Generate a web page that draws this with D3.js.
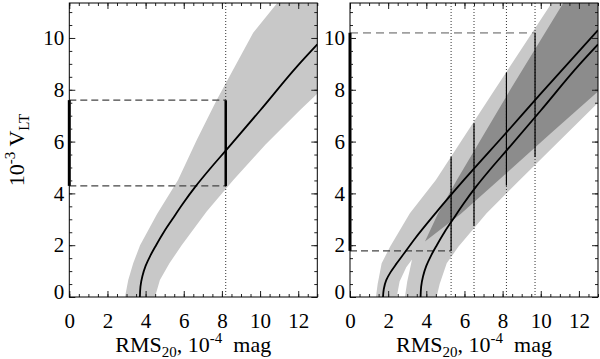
<!DOCTYPE html>
<html>
<head>
<meta charset="utf-8">
<script src="https://cdn.jsdelivr.net/npm/d3@7/dist/d3.min.js"></script>
<style>
body { margin: 0; background: #fff; }
svg, svg text { font-family: "Liberation Serif", "DejaVu Serif", serif; }
</style>
</head>
<body>
<script>
// axis ticks
var xTicks = [0, 2, 4, 6, 8, 10, 12];
var yTicks = [0, 2, 4, 6, 8, 10];

// model curves, [RMS20, 10^-3 V_LT]
var curveB = [[3.7,0],[3.73,0.4],[3.83,0.8],[4.0,1.2],[4.25,1.6],[4.55,2.0],[4.95,2.5],[5.4,3.0],[5.95,3.6],[6.6,4.25],[7.4,4.97],[8.2,5.65],[10,7.2],[12,8.95],[13,9.75]];
var curveA = [[1.73,0],[1.77,0.3],[1.9,0.65],[2.12,0.95],[2.45,1.3],[2.85,1.7],[3.4,2.25],[4.5,3.25],[5.95,4.5],[8.2,6.35],[10,7.85],[13,10.3]];

// left panel band edges
var bandUpperL = [[2.92,0],[3.09,0.66],[3.35,1.3],[3.71,2.0],[4.6,3.2],[5.7,4.52],[6.68,6.06],[7.72,7.6],[9.64,10.2],[10.9,11.35],[11.3,12]];
var bandLowerL = [[4.49,0],[4.75,0.66],[5.25,1.3],[5.89,2.0],[7.2,3.3],[8.6,4.52],[10.3,5.9],[12.1,7.22],[13.5,8.2]];

// right panel light band (union of two) and dark band
var bandUpperR = [[1.36,0],[1.45,0.5],[1.66,1.3],[2.1,1.94],[3.14,3.23],[4.5,4.52],[7.5,7.9],[10.57,11.35],[11,12]];
var bandLowerR = [[4.54,0],[4.7,0.5],[5.07,1.3],[5.68,1.94],[7.16,3.23],[8.9,4.52],[13,7.5],[13.5,7.9]];
var gapEdgeA = [[2.45,0],[2.6,0.6],[2.95,1.15],[3.25,1.45]];
var gapEdgeB = [[2.88,0],[3.0,0.6],[3.15,1.1],[3.25,1.45]];
var darkUpper = [[3.93,2.14],[4.6,3.2],[5.6,4.52],[8.4,8.0],[11.18,11.35],[11.5,12]];
var darkLower = [[3.93,2.14],[5.8,3.2],[7.8,4.52],[10.5,6.3],[13,7.93],[13.5,8.25]];

// measured ranges
var leftRms = [8.2];
var leftLo = [4.29];
var leftHi = [7.6];
var rightRms = [5.3, 6.5, 8.2, 9.7];
var rightLo = [1.78, 2.75, 4.3, 5.4];
var rightHi = [5.4, 6.7, 8.65, 10.2];

window.onload = function(){
    var w = 600, h = 359;
    var pw = 248, ph = 294, top = 3;
    var serif = "'Liberation Serif', 'DejaVu Serif', serif";

    var svg = d3.select("body").append("svg")
        .attr("width", w)
        .attr("height", h);

    var x = d3.scaleLinear().domain([0, 13]).range([0, pw]);
    var y = d3.scaleLinear().domain([0, 11.35]).range([ph, 0]);

    var line = d3.line().x(function(d){ return x(d[0]); }).y(function(d){ return y(d[1]); });
    var smooth = d3.line().x(function(d){ return x(d[0]); }).y(function(d){ return y(d[1]); }).curve(d3.curveMonotoneY);

    svg.append("defs").append("clipPath").attr("id", "clip")
        .append("rect").attr("width", pw).attr("height", ph);

    function panel(x0){
        var g = svg.append("g").attr("transform", "translate(" + x0 + "," + top + ")");
        var p = g.append("g").attr("clip-path", "url(#clip)");
        return { g: g, p: p };
    }

    function frame(g){
        var minor = d3.range(0, 13.01, 0.5);
        var minorY = d3.range(0, 11.35, 0.5);
        g.append("g").attr("transform", "translate(0," + ph + ")")
            .call(d3.axisBottom(x).tickValues(minor).tickSize(-3).tickFormat(""));
        g.append("g").call(d3.axisTop(x).tickValues(minor).tickSize(-3).tickFormat(""));
        g.append("g").call(d3.axisLeft(y).tickValues(minorY).tickSize(-3).tickFormat(""));
        g.append("g").attr("transform", "translate(" + pw + ",0)")
            .call(d3.axisRight(y).tickValues(minorY).tickSize(-3).tickFormat(""));

        g.append("g").attr("transform", "translate(0," + ph + ")")
            .call(d3.axisBottom(x).tickValues(xTicks).tickSize(-6).tickPadding(16).tickFormat(d3.format("d")));
        g.append("g").call(d3.axisTop(x).tickValues(xTicks).tickSize(-6).tickFormat(""));
        var ly = g.append("g")
            .call(d3.axisLeft(y).tickValues(yTicks).tickSize(-6).tickPadding(5).tickFormat(d3.format("d")));
        g.append("g").attr("transform", "translate(" + pw + ",0)")
            .call(d3.axisRight(y).tickValues(yTicks).tickSize(-6).tickFormat(""));

        g.selectAll(".domain").remove();
        g.selectAll(".tick line").attr("stroke", "#222");
        g.selectAll(".tick text").style("font-family", serif).style("font-size", "21px").attr("fill", "#000");
        ly.selectAll(".tick text").filter(function(d){ return d === 0; }).attr("dy", "0.08em");

        g.append("rect").attr("width", pw).attr("height", ph)
            .attr("fill", "none").attr("stroke", "#000").attr("stroke-width", 1);

        // x title
        var t = g.append("text").attr("x", pw / 2).attr("y", 352 - top)
            .attr("text-anchor", "middle").style("font-family", serif).style("font-size", "22px");
        t.append("tspan").text("RMS");
        t.append("tspan").style("font-size", "15px").attr("dy", 5).text("20");
        t.append("tspan").attr("dy", -5).text(", 10");
        t.append("tspan").style("font-size", "15px").attr("dy", -9).text("-4");
        t.append("tspan").attr("dy", 9).text("\u00a0 mag");
    }

    // ---- left panel ----
    var L = panel(69.3);
    L.p.append("path")
        .attr("d", line(bandUpperL.concat([[14, 13]], bandLowerL.slice().reverse())) + "Z")
        .attr("fill", "#c8c8c8");

    L.p.selectAll(".dot").data(leftRms).enter().append("line")
        .attr("x1", function(d){ return x(d); }).attr("x2", function(d){ return x(d); })
        .attr("y1", 0).attr("y2", ph)
        .attr("stroke", "#333").attr("stroke-width", 1).attr("stroke-dasharray", "1,2");

    [leftLo[0], leftHi[0]].forEach(function(v){
        L.p.append("line")
            .attr("x1", x(0)).attr("x2", x(leftRms[0]))
            .attr("y1", y(v)).attr("y2", y(v))
            .attr("stroke", "#444").attr("stroke-width", 1.2).attr("stroke-dasharray", "7,4");
    });

    L.p.append("path").attr("d", smooth(curveB))
        .attr("fill", "none").attr("stroke", "#000").attr("stroke-width", 1.8);

    L.p.selectAll(".seg").data(leftRms).enter().append("line")
        .attr("x1", function(d){ return x(d); }).attr("x2", function(d){ return x(d); })
        .attr("y1", function(d, i){ return y(leftLo[i]); })
        .attr("y2", function(d, i){ return y(leftHi[i]); })
        .attr("stroke", "#000").attr("stroke-width", 2.5);

    L.g.append("line")
        .attr("x1", 0).attr("x2", 0)
        .attr("y1", y(leftLo[0])).attr("y2", y(leftHi[0]))
        .attr("stroke", "#000").attr("stroke-width", 3);

    frame(L.g);

    // y title
    var yt = svg.append("text").attr("transform", "translate(24,150) rotate(-90)")
        .attr("text-anchor", "middle").style("font-family", serif).style("font-size", "22px");
    yt.append("tspan").text("10");
    yt.append("tspan").style("font-size", "15px").attr("dy", -9).text("-3");
    yt.append("tspan").attr("dy", 9).text(" V");
    yt.append("tspan").style("font-size", "15px").attr("dy", 5).text("LT");

    // ---- right panel ----
    var R = panel(350);
    var outline = bandUpperR.concat([[14, 13]], bandLowerR.slice().reverse(), gapEdgeB, gapEdgeA.slice().reverse());
    R.p.append("path").attr("d", line(outline) + "Z").attr("fill", "#c8c8c8");

    var dark = darkUpper.concat([[14, 13]], darkLower.slice().reverse());
    R.p.append("path").attr("d", line(dark) + "Z").attr("fill", "#8c8c8c");

    R.p.selectAll(".dot").data(rightRms).enter().append("line")
        .attr("x1", function(d){ return x(d); }).attr("x2", function(d){ return x(d); })
        .attr("y1", 0).attr("y2", ph)
        .attr("stroke", "#333").attr("stroke-width", 1).attr("stroke-dasharray", "1,2");

    R.p.append("line")
        .attr("x1", x(0)).attr("x2", x(rightRms[3]))
        .attr("y1", y(rightHi[3])).attr("y2", y(rightHi[3]))
        .attr("stroke", "#a0a0a0").attr("stroke-width", 1.8).attr("stroke-dasharray", "8,5");
    R.p.append("line")
        .attr("x1", x(0)).attr("x2", x(rightRms[0]))
        .attr("y1", y(rightLo[0])).attr("y2", y(rightLo[0]))
        .attr("stroke", "#444").attr("stroke-width", 1.2).attr("stroke-dasharray", "7,4");

    R.p.selectAll(".seg").data(rightRms).enter().append("line")
        .attr("x1", function(d){ return x(d); }).attr("x2", function(d){ return x(d); })
        .attr("y1", function(d, i){ return y(rightLo[i]); })
        .attr("y2", function(d, i){ return y(rightHi[i]); })
        .attr("stroke", "#000").attr("stroke-width", 1.2);

    [curveA, curveB].forEach(function(c){
        R.p.append("path").attr("d", smooth(c))
            .attr("fill", "none").attr("stroke", "#000").attr("stroke-width", 1.8);
    });

    R.g.append("line")
        .attr("x1", 0).attr("x2", 0)
        .attr("y1", y(rightLo[0])).attr("y2", y(rightHi[3]))
        .attr("stroke", "#000").attr("stroke-width", 3);

    frame(R.g);
};
</script>
</body>
</html>
